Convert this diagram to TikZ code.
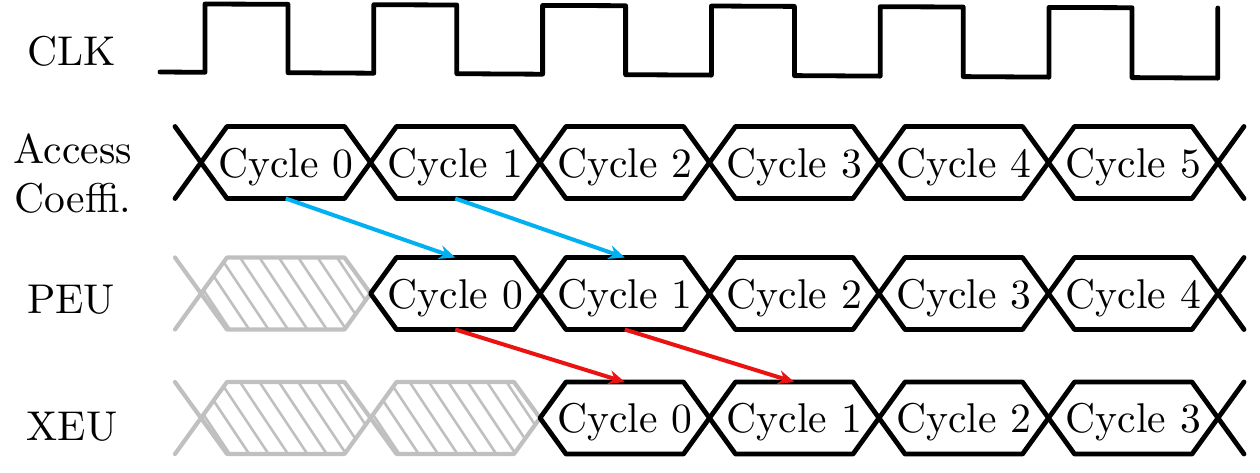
\documentclass[tikz,border=0pt]{standalone}
\usepackage{graphicx}
\usetikzlibrary{arrows.meta,calc}
\definecolor{cyanA}{RGB}{0,176,240}
\definecolor{redA}{RGB}{235,18,18}
\definecolor{grayA}{RGB}{192,192,192}
\newcommand{\hexpath}[1]{(#1.west) -- ([xshift=13pt]#1.north west) -- ([xshift=-13pt]#1.north east) -- (#1.east) -- ([xshift=-13pt]#1.south east) -- ([xshift=13pt]#1.south west) -- cycle}
\newcommand{\bigtxt}[1]{\scalebox{2.08}{#1}}
\begin{document}
\begin{tikzpicture}[x=0.5pt,y=-0.5pt,
  seg/.style={minimum width=84.75pt,minimum height=36pt,inner sep=0pt,outer sep=0pt,text height=16pt,text depth=1.5pt,font=\fontsize{10}{12}\selectfont},
  lbl/.style={font=\fontsize{10}{12}\selectfont,align=center,inner sep=0pt},
  blk/.style={line width=2.4pt,line join=round,line cap=round,black},
  gry/.style={line width=2.1pt,line join=round,line cap=round,grayA},
  hatch/.style={line width=1.3pt,grayA},
  bluearr/.style={line width=2pt,cyanA,-{Stealth[length=8pt,width=7pt]}},
  redarr/.style={line width=2pt,redA,-{Stealth[length=8pt,width=7pt]}}
]
\useasboundingbox (0,0) rectangle (1260,472);

% labels
\node[lbl,anchor=base] (lclk) at (72,65) {\bigtxt{CLK}};
\node[lbl] (lacc) at (73,178) {\bigtxt{\begin{tabular}{@{}c@{}}Access\\Coeffi.\end{tabular}}};
\node[lbl,anchor=base] (lpeu) at (71,313) {\bigtxt{PEU}};
\node[lbl,anchor=base] (lxeu) at (72,440) {\bigtxt{XEU}};

% clock
\draw[blk] (160,72) -- (205,72.3) -- (205,4) -- (288,4.3) -- (288,72.7) -- (373.8,73.2) -- (373.8,4.7) -- (456.8,5) -- (456.8,73.7) -- (542.6,74.2) -- (542.6,5.4) -- (625.6,5.7) -- (625.6,74.7) -- (711.4,75.1) -- (711.4,6) -- (794.4,6.4) -- (794.4,75.6) -- (880.2,76.1) -- (880.2,6.7) -- (963.2,7.0) -- (963.2,76.6) -- (1049,77.1) -- (1049,7.4) -- (1132,7.7) -- (1132,77.6) -- (1217.8,78.1) -- (1217.8,8);

% segment nodes
\foreach \k in {0,...,5}{
  \node[seg] (a\k) at ({201+169.5*\k+84.75},162.5) {\bigtxt{Cycle \k}};
}
\node[seg] (p0) at ({201+84.75},293.5) {};
\foreach \k [evaluate=\k as \c using int(\k-1)] in {1,...,5}{
  \node[seg] (p\k) at ({201+169.5*\k+84.75},293.5) {\bigtxt{Cycle \c}};
}
\node[seg] (x0) at ({201+84.75},418) {};
\node[seg] (x1) at ({201+169.5+84.75},418) {};
\foreach \k [evaluate=\k as \c using int(\k-2)] in {2,...,5}{
  \node[seg] (x\k) at ({201+169.5*\k+84.75},418) {\bigtxt{Cycle \c}};
}

% gray hatched segments
\foreach \n in {p0,x0,x1}{
  \begin{scope}
    \clip \hexpath{\n};
    \foreach \i in {-4,...,9}{
      \draw[hatch] ($(\n.north west)+({39+19.4*\i},0)$) -- ++(48,72);
    }
  \end{scope}
  \draw[gry] \hexpath{\n};
}
\draw[gry] (p0.west) -- ([xshift=-13pt]p0.north west);
\draw[gry] (p0.west) -- ([xshift=-13pt]p0.south west);
\draw[gry] (x0.west) -- ([xshift=-13pt]x0.north west);
\draw[gry] (x0.west) -- ([xshift=-13pt]x0.south west);

% black segments
\foreach \n in {a0,a1,a2,a3,a4,a5,p1,p2,p3,p4,p5,x2,x3,x4,x5}{
  \draw[blk] \hexpath{\n};
}
\draw[blk] (a0.west) -- ([xshift=-13pt]a0.north west);
\draw[blk] (a0.west) -- ([xshift=-13pt]a0.south west);
\foreach \n in {a5,p5,x5}{
  \draw[blk] (\n.east) -- ([xshift=13pt]\n.north east);
  \draw[blk] (\n.east) -- ([xshift=13pt]\n.south east);
}

% arrows
\draw[bluearr] (a0.south) -- (p1.north);
\draw[bluearr] (a1.south) -- (p2.north);
\draw[redarr] (p1.south) -- (x2.north);
\draw[redarr] (p2.south) -- (x3.north);
\end{tikzpicture}
\end{document}
